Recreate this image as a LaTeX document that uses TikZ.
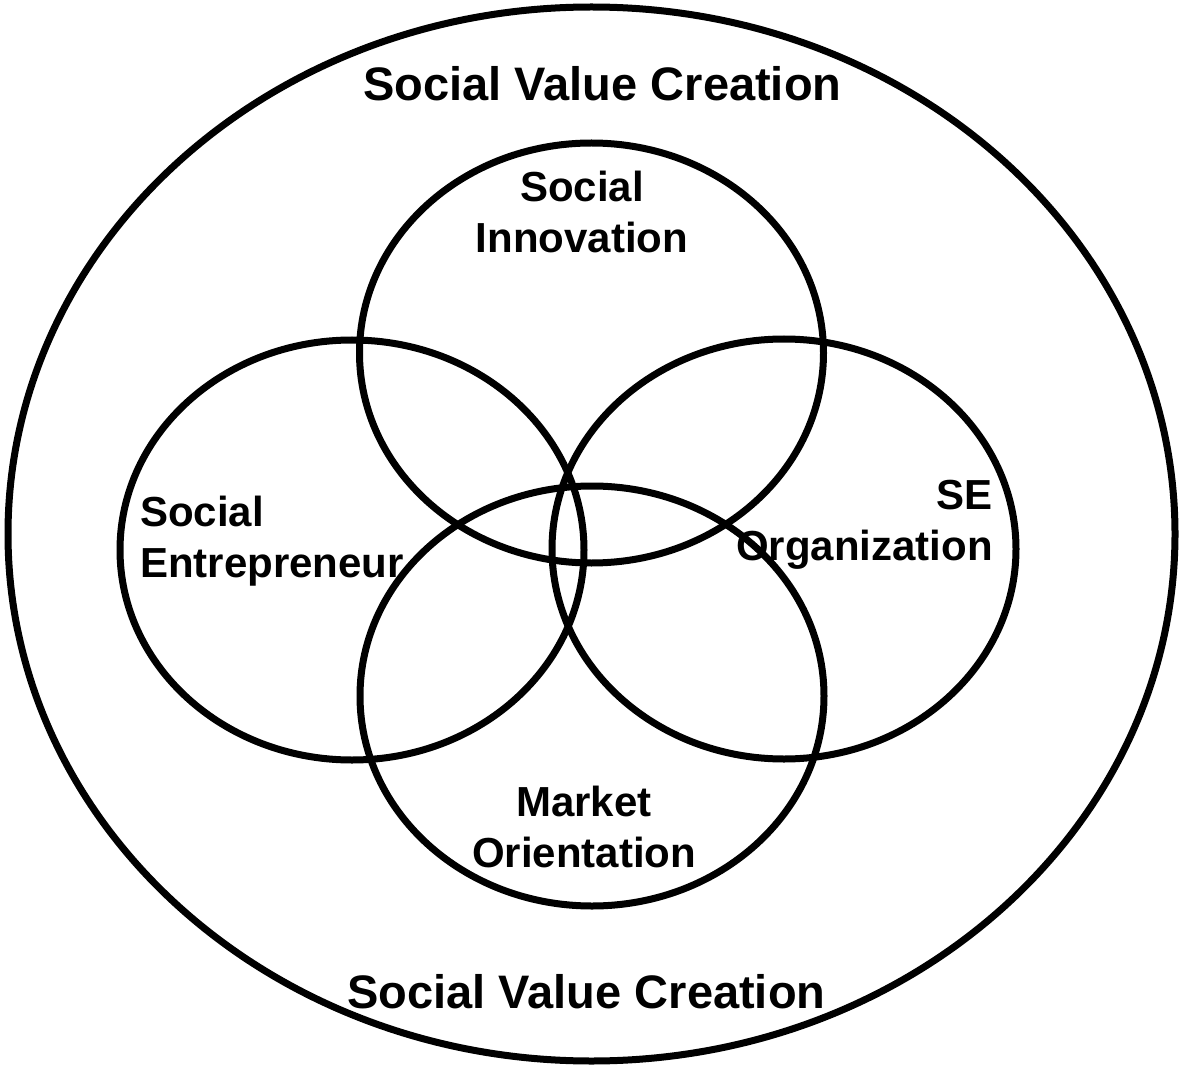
\documentclass[tikz,border=0pt]{standalone}
\usepackage{fontspec}
\setmainfont{Liberation Sans}
\usepackage{tikz}

\tikzset{
	ring/.style={draw=black,line width=7pt},
	bigtitle/.style={inner sep=0pt,anchor=base,font=\fontsize{47}{56}\selectfont\bfseries},
	label/.style={inner sep=0pt,anchor=base,font=\fontsize{42}{51}\selectfont\bfseries}
}

\begin{document}
\begin{tikzpicture}[x=1pt,y=-1pt]
			\def\rx{232}
			\def\ry{210}
			\useasboundingbox (0,0) rectangle (1181,1067);
			% outer ring
			\draw[ring] (591.5,534) ellipse [x radius=583.5, y radius=527];
			% the four overlapping rings
			\draw[ring] (591.5,353) ellipse [x radius=\rx, y radius=\ry];
			\draw[ring] (352,550) ellipse [x radius=\rx, y radius=\ry];
			\draw[ring] (784,549) ellipse [x radius=\rx, y radius=\ry];
			\draw[ring] (592,696) ellipse [x radius=\rx, y radius=\ry];
			% texts (base = last line)
			\node[bigtitle] (svctop) at (602.5,101) {Social Value Creation};
			\node[bigtitle] (svcbottom) at (586.5,1008) {Social Value Creation};
			\node[label,align=center] (innov) at (582,253) {Social\\Innovation};
			\node[label,align=left,anchor=base west] (entre) at (140,577) {Social\\Entrepreneur};
			\node[label,align=right,anchor=base east] (seorg) at (993,560) {SE\\Organization};
			\node[label,align=center] (market) at (584,867) {Market\\Orientation};
		\end{tikzpicture}
\end{document}
